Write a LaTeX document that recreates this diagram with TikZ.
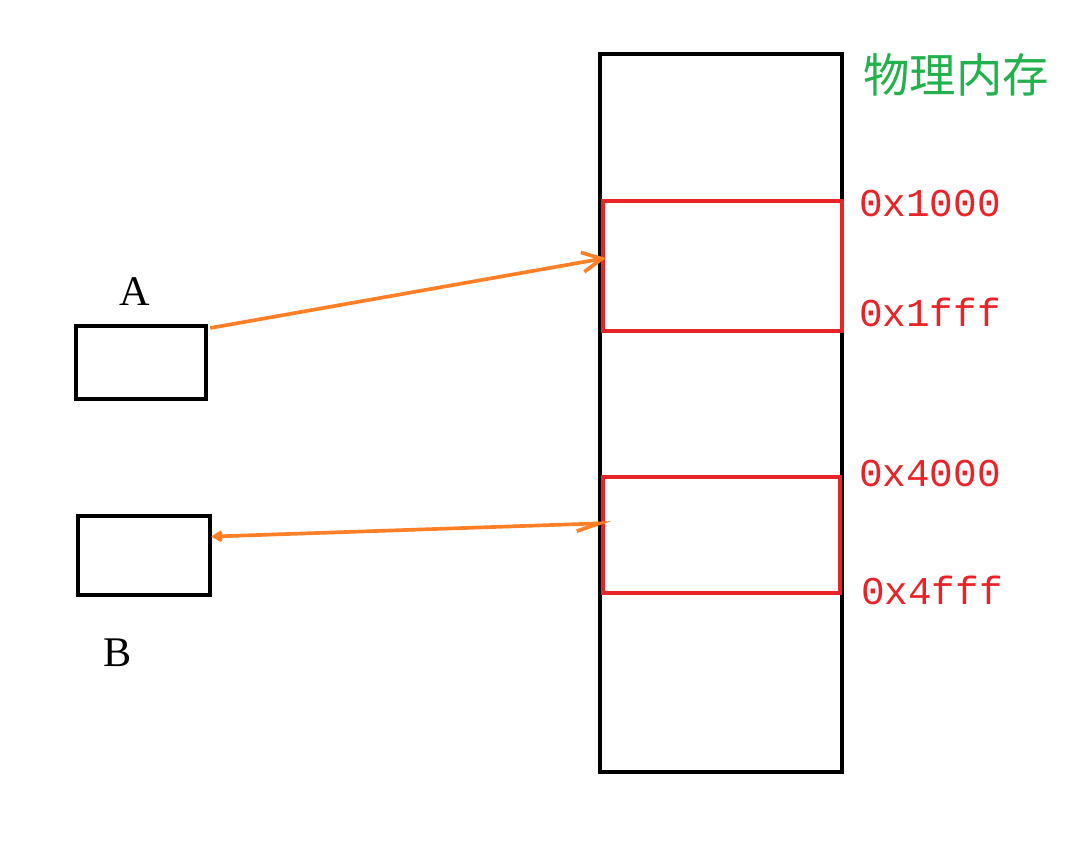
\documentclass[tikz,border=0pt]{standalone}
\usepackage{fontspec}
\setmainfont{Liberation Serif}
\setmonofont{Liberation Mono}
\newfontfamily\cjk{Noto Sans CJK SC}
\usetikzlibrary{arrows.meta}
\definecolor{myred}{RGB}{232,36,40}
\definecolor{myor}{RGB}{255,127,39}
\definecolor{mygr}{RGB}{34,177,76}
\begin{document}
\begin{tikzpicture}[x=0.025cm,y=-0.025cm,
  blk/.style={draw=black,line width=3pt},
  red/.style={draw=myred,line width=3pt},
  arr/.style={draw=myor,line width=2.6pt},
  lab/.style={font=\fontsize{30}{32}\selectfont},
  addr/.style={font=\ttfamily\fontsize{28}{30}\selectfont,text=myred}]
\useasboundingbox (0,0) rectangle (1067,845);
\node[blk,minimum width=242*0.025cm,minimum height=718*0.025cm,anchor=north west] (mem) at (598,52) {};
\node[red,minimum width=239*0.025cm,minimum height=130*0.025cm,anchor=north west] (r1) at (601,199) {};
\node[red,minimum width=237*0.025cm,minimum height=116*0.025cm,anchor=north west] (r2) at (601,475) {};
\node[blk,minimum width=130*0.025cm,minimum height=73*0.025cm,anchor=north west] (a) at (74,324) {};
\node[blk,minimum width=132*0.025cm,minimum height=79*0.025cm,anchor=north west] (b) at (76,514) {};
\node[lab] (la) at (135,292) {A};
\node[lab] (lb) at (118,653) {B};
\node[addr] (t1) at (930,204) {0x1000};
\node[addr] (t2) at (930,312) {0x1fff};
\node[addr] (t3) at (930,474) {0x4000};
\node[addr] (t4) at (932,590) {0x4fff};
\node[font=\cjk\fontsize{33}{35}\selectfont,text=mygr] (title) at (956,75) {物理内存};
\coordinate (ae) at (606,258);
\coordinate (be) at (611,523);
\draw[arr,-{Straight Barb[length=14pt,width=14pt]}] (a.north east) ++(2,4) -- (ae);
\draw[arr,{Straight Barb[length=5pt,width=6pt]}-{Straight Barb[harpoon,swap,length=16pt,width=10pt]}] (b.east) ++(-1,-19) -- (be);
\end{tikzpicture}
\end{document}
